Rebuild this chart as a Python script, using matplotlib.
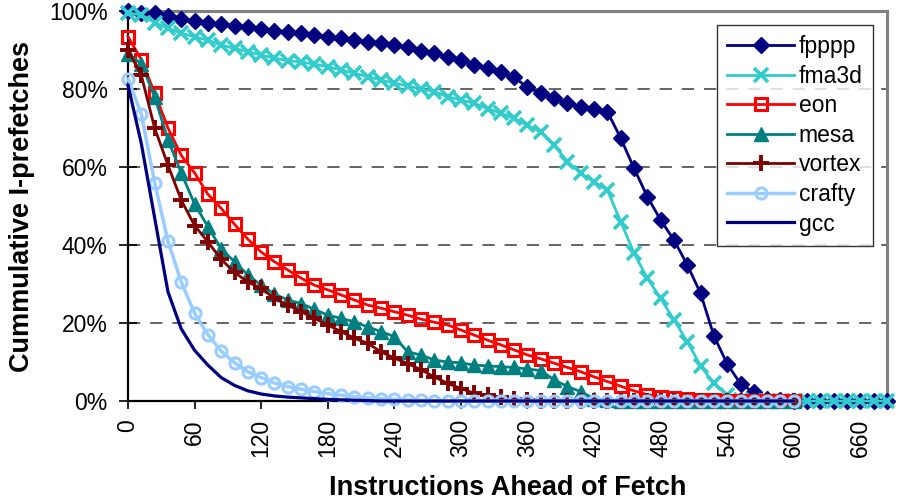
import numpy as np
import matplotlib
matplotlib.use("Agg")
import matplotlib.pyplot as plt
from matplotlib.ticker import FuncFormatter

plt.rcParams['font.family'] = ['Liberation Sans', 'DejaVu Sans']

# Instructions ahead of fetch (sampled every 12 instructions)
x_long = list(range(0, 685, 12))    # fpppp, fma3d
x_short = list(range(0, 601, 12))   # remaining benchmarks

fpppp = [100, 99.5, 99.4, 98.7, 97.9, 97.5, 97.0, 96.7, 96.2, 95.8,
         95.4, 95.0, 94.7, 94.4, 93.9, 93.4, 93.0, 92.6, 92.1, 91.7,
         91.3, 90.7, 89.8, 89.2, 88.3, 87.4, 86.2, 85.3, 84.4, 83.0,
         80.4, 78.9, 77.6, 76.3, 75.4, 75.0, 74.2, 67.4, 59.7, 52.4,
         46.4, 41.3, 34.9, 27.6, 16.7, 9.5, 4.4, 2.2, 0.6, 0.2,
         0, 0, 0, 0, 0, 0, 0, 0]

fma3d = [99.5, 99.0, 97.0, 95.6, 94.3, 93.4, 92.5, 91.3, 90.4, 89.6,
         88.7, 87.9, 87.3, 86.9, 86.4, 85.7, 84.9, 84.0, 83.2, 82.3,
         81.5, 80.8, 80.0, 79.3, 78.0, 77.2, 76.3, 75.0, 73.8, 72.5,
         70.7, 69.0, 65.6, 61.4, 58.4, 56.2, 54.1, 46.0, 37.9, 31.5,
         26.3, 20.8, 15.2, 9.0, 4.5, 1.5, 0.3,
         0, 0, 0, 0, 0, 0, 0, 0, 0, 0, 0]

eon = [93.4, 87.5, 79.0, 70.0, 63.0, 58.5, 53.0, 49.4, 45.3, 41.5,
       38.2, 35.7, 33.6, 31.5, 29.7, 28.5, 27.2, 25.9, 24.6, 23.8,
       22.9, 22.0, 21.0, 20.2, 19.5, 18.2, 16.9, 15.6, 14.4, 13.1,
       11.8, 10.8, 9.7, 8.6, 7.5, 6.2, 5.0, 3.8, 2.6, 1.6,
       1.1, 0.7, 0.4, 0.3, 0.2, 0.1, 0.1, 0, 0, 0, 0]

mesa = [89.0, 86.5, 78.0, 67.0, 58.5, 50.5, 44.7, 39.0, 35.7, 32.3,
        29.7, 27.4, 25.9, 25.0, 23.5, 22.0, 21.2, 20.3, 19.0, 17.8,
        16.5, 12.6, 11.8, 10.5, 10.0, 9.8, 9.2, 9.0, 8.8, 8.6,
        8.2, 7.8, 5.4, 3.7, 2.4, 0.6, 0.2,
        0, 0, 0, 0, 0, 0, 0, 0, 0, 0, 0, 0, 0, 0]

vortex = [90.0, 83.5, 70.0, 60.5, 51.5, 45.0, 40.8, 36.3, 33.0, 30.5,
          28.9, 26.3, 24.6, 22.9, 21.2, 19.5, 17.8, 16.1, 14.8, 12.6,
          11.0, 9.6, 8.0, 6.2, 4.5, 3.2, 2.0, 1.5, 1.0, 0.5,
          0.3, 0.1,
          0, 0, 0, 0, 0, 0, 0, 0, 0, 0, 0, 0, 0, 0, 0, 0, 0, 0, 0]

crafty = [82.6, 73.6, 56.0, 41.0, 30.5, 22.5, 17.0, 12.8, 9.8, 7.5,
          6.0, 4.6, 3.7, 3.0, 2.4, 1.9, 1.5, 1.1, 0.8, 0.6,
          0.4, 0.3, 0.2, 0.1,
          0, 0, 0, 0, 0, 0, 0, 0, 0, 0, 0, 0, 0, 0, 0, 0, 0, 0, 0, 0,
          0, 0, 0, 0, 0, 0, 0]

gcc = [81.0, 66.0, 47.0, 28.0, 18.5, 13.0, 9.2, 6.0, 4.0, 2.6,
       1.8, 1.3, 1.0, 0.8, 0.6, 0.4, 0.3, 0.2, 0.1,
       0, 0, 0, 0, 0, 0, 0, 0, 0, 0, 0, 0, 0, 0, 0, 0, 0, 0, 0, 0, 0,
       0, 0, 0, 0, 0, 0, 0, 0, 0, 0, 0]

x_ticks = list(range(0, 661, 60))
y_ticks = [0, 20, 40, 60, 80, 100]

fig = plt.figure(figsize=(8.98, 5.01), dpi=100)
ax = fig.add_axes([128 / 898, 1 - 401 / 501, (887 - 128) / 898, (401 - 11) / 501])

styles = [
    ("fpppp", x_long, fpppp, dict(color="#000080", marker="D", ms=8, mfc="#000080", mec="#000080", lw=2)),
    ("fma3d", x_long, fma3d, dict(color="#33CCCC", marker="x", ms=10, mew=2.6, lw=2)),
    ("eon", x_short, eon, dict(color="#FF0000", marker="s", ms=8, mfc="none", mec="#FF0000", mew=2.2, lw=2)),
    ("mesa", x_short, mesa, dict(color="#008080", marker="^", ms=9.5, mfc="#008080", mec="#008080", lw=2)),
    ("vortex", x_short, vortex, dict(color="#800000", marker="+", ms=12, mew=2.8, lw=2)),
    ("crafty", x_short, crafty, dict(color="#99CCFF", marker="o", ms=8, mfc="none", mec="#99CCFF", mew=2.2, lw=2.5)),
    ("gcc", x_short, gcc, dict(color="#000080", lw=2.3)),
]

for i, (name, xs, ys, kw) in enumerate(styles):
    ax.plot(xs, ys, label=name, clip_on=False, zorder=3 + i, **kw)

ax.set_xlim(0, 684)
ax.set_ylim(0, 100)

ax.set_xticks(x_ticks)
ax.set_xticklabels([str(v) for v in x_ticks], rotation=90)
ax.set_yticks(y_ticks)
ax.yaxis.set_major_formatter(FuncFormatter(lambda v, p: f"{int(v)}%"))

ax.tick_params(axis="y", direction="inout", length=13, width=1.2, labelsize=16.5, pad=8)
ax.tick_params(axis="x", direction="out", length=6, width=1.2, labelsize=16.5, pad=7)

for y in y_ticks[1:-1]:
    ax.axhline(y, color="#3a3a3a", lw=1.1, ls=(0, (8, 6.5)), zorder=1)

for side in ("top", "right"):
    ax.spines[side].set_color("#808080")
    ax.spines[side].set_linewidth(2.2)
ax.spines["left"].set_color("#000000")
ax.spines["left"].set_linewidth(1.6)
ax.spines["bottom"].set_color("#000000")
ax.spines["bottom"].set_linewidth(1.6)

ax.set_xlabel("Instructions Ahead of Fetch", fontsize=19.5, fontweight="bold", labelpad=13)
ax.set_ylabel("Cummulative I-prefetches", fontsize=19.5, fontweight="bold", labelpad=10)

leg = ax.legend(loc="upper right", bbox_to_anchor=((873 - 128) / 759, (401 - 25) / 390),
                fontsize=16.5, frameon=True, fancybox=False, shadow=False,
                numpoints=1, handlelength=2.9, handletextpad=0.22,
                labelspacing=0.285, borderpad=0.45, borderaxespad=0)
leg.get_frame().set_edgecolor("#000000")
leg.get_frame().set_linewidth(1.0)
leg.set_zorder(20)

fig.savefig("out.png", dpi=100)
